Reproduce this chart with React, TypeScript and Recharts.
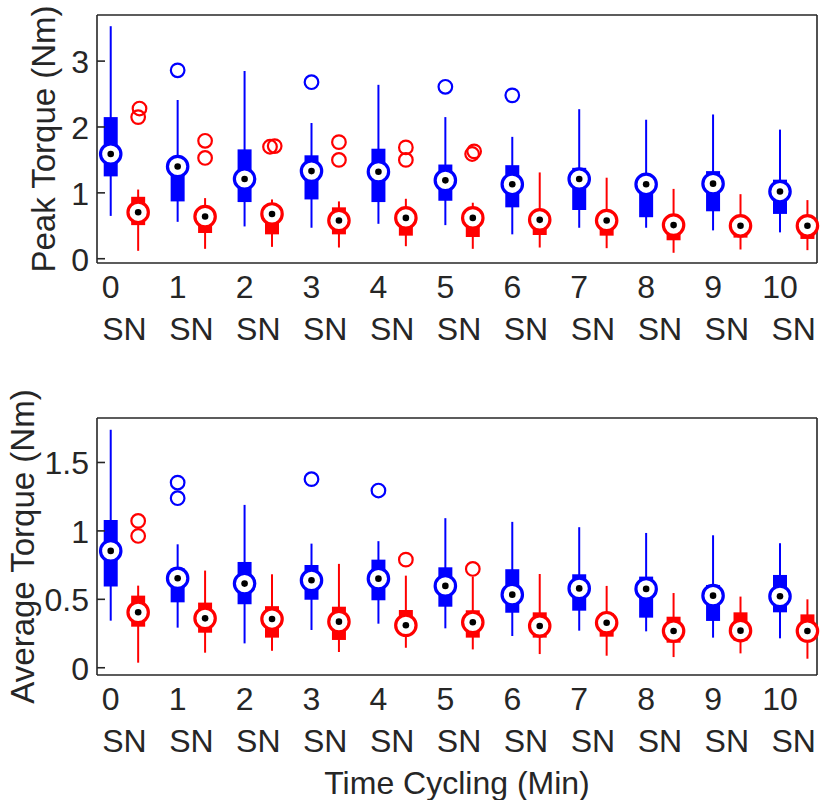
import React from 'react';
import { ScatterChart, Scatter, XAxis, YAxis, ErrorBar } from 'recharts';

// ---------- data ----------
const times = [0, 1, 2, 3, 4, 5, 6, 7, 8, 9, 10];
const groupLabel = 'SN';
const nOffset = 0.41; // N box sits right of S box

// [whiskerLow, q1, median, q3, whiskerHigh]
const peakS = [
  [0.65, 1.25, 1.59, 2.15, 3.53],
  [0.56, 0.87, 1.40, 1.45, 2.41],
  [0.49, 0.86, 1.21, 1.66, 2.85],
  [0.47, 0.90, 1.33, 1.57, 2.06],
  [0.53, 0.86, 1.32, 1.67, 2.64],
  [0.51, 0.88, 1.19, 1.43, 2.15],
  [0.37, 0.78, 1.13, 1.42, 1.85],
  [0.47, 0.74, 1.21, 1.38, 2.27],
  [0.47, 0.63, 1.13, 1.18, 2.11],
  [0.43, 0.72, 1.14, 1.33, 2.19],
  [0.40, 0.68, 1.02, 1.20, 1.96],
];
const peakN = [
  [0.12, 0.51, 0.705, 0.94, 1.05],
  [0.15, 0.39, 0.64, 0.75, 0.92],
  [0.18, 0.37, 0.68, 0.80, 0.90],
  [0.17, 0.37, 0.58, 0.78, 0.87],
  [0.19, 0.35, 0.62, 0.75, 0.91],
  [0.15, 0.33, 0.62, 0.72, 0.85],
  [0.17, 0.36, 0.59, 0.70, 1.31],
  [0.16, 0.35, 0.58, 0.66, 1.23],
  [0.09, 0.28, 0.51, 0.60, 1.06],
  [0.14, 0.32, 0.50, 0.58, 0.98],
  [0.13, 0.30, 0.50, 0.60, 0.89],
];
// outliers: [timeIndex, value, jitter]
const peakSOut = [[1, 2.86, 0], [3, 2.68, 0], [5, 2.61, 0], [6, 2.48, 0]];
const peakNOut = [
  [0, 2.28, 0.02], [0, 2.15, 0],
  [1, 1.79, 0], [1, 1.53, 0],
  [2, 1.70, -0.03], [2, 1.71, 0.04],
  [3, 1.77, 0], [3, 1.50, 0],
  [4, 1.69, 0], [4, 1.50, 0],
  [5, 1.63, 0.02], [5, 1.59, -0.01],
];

const avgS = [
  [0.344, 0.593, 0.854, 1.08, 1.739],
  [0.293, 0.478, 0.654, 0.727, 0.902],
  [0.178, 0.464, 0.615, 0.773, 1.19],
  [0.276, 0.497, 0.639, 0.751, 0.907],
  [0.322, 0.493, 0.651, 0.79, 0.925],
  [0.288, 0.446, 0.598, 0.734, 1.093],
  [0.232, 0.402, 0.534, 0.72, 1.066],
  [0.271, 0.417, 0.58, 0.683, 1.027],
  [0.266, 0.366, 0.576, 0.666, 0.985],
  [0.22, 0.342, 0.527, 0.605, 0.968],
  [0.215, 0.405, 0.522, 0.678, 0.91],
];
const avgN = [
  [0.037, 0.30, 0.405, 0.527, 0.60],
  [0.11, 0.256, 0.361, 0.476, 0.71],
  [0.124, 0.22, 0.356, 0.45, 0.683],
  [0.115, 0.203, 0.337, 0.446, 0.759],
  [0.146, 0.25, 0.31, 0.422, 0.673],
  [0.134, 0.22, 0.332, 0.42, 0.666],
  [0.10, 0.22, 0.305, 0.405, 0.685],
  [0.088, 0.227, 0.329, 0.40, 0.598],
  [0.078, 0.183, 0.268, 0.373, 0.546],
  [0.105, 0.198, 0.271, 0.405, 0.52],
  [0.066, 0.203, 0.268, 0.39, 0.50],
];
const avgSOut = [[1, 1.353, 0], [1, 1.239, 0], [3, 1.378, 0], [4, 1.295, 0]];
const avgNOut = [[0, 1.073, 0], [0, 0.963, 0], [4, 0.79, 0], [5, 0.722, 0]];

const peakTicks = [0, 1, 2, 3];
const avgTicks = [0, 0.5, 1, 1.5];
const peakDomain = [-0.065, 3.7];
const avgDomain = [-0.053, 1.825];
const xDomain = [-0.205, 10.553];

// tick positions: time numbers under S boxes, "SN" centred under each pair
const xTicks = times.flatMap((t) => [t, t + nOffset / 2]);

// ---------- styling ----------
const BLUE = '#0000ff';
const RED = '#ff0000';
const AX = '#262626';
const FONT = '"Liberation Sans", Arial, Helvetica, sans-serif';

const boxRows = (stats: number[][], off: number) =>
  stats.map((s, i) => ({
    x: times[i] + off,
    y: s[2],
    whisker: [s[2] - s[0], s[4] - s[2]],
    box: [s[2] - s[1], s[3] - s[2]],
  }));

const outRows = (out: number[][], off: number) =>
  out.map(([t, v, j]) => ({ x: times[t] + off + j, y: v }));

const medianShape = (color: string) => (props: any) => {
  const { cx, cy } = props;
  if (cx == null || cy == null) return null;
  return (
    <g>
      <circle cx={cx} cy={cy} r={10.2} fill="#ffffff" stroke={color} strokeWidth={3.2} />
      <circle cx={cx} cy={cy} r={3.3} fill="#000000" />
    </g>
  );
};

const outlierShape = (color: string) => (props: any) => {
  const { cx, cy } = props;
  if (cx == null || cy == null) return null;
  return <circle cx={cx} cy={cy} r={6.8} fill="none" stroke={color} strokeWidth={2.2} />;
};

const XTick = (props: any) => {
  const { x, y, payload } = props;
  const v = payload.value;
  const isNum = Math.abs(v - Math.round(v)) < 1e-6;
  return (
    <text
      x={x}
      y={y + (isNum ? 35 : 77)}
      textAnchor="middle"
      fontSize={32}
      fill={AX}
      fontFamily={FONT}
    >
      {isNum ? String(Math.round(v)) : groupLabel}
    </text>
  );
};

const YTick = (props: any) => {
  const { x, y, payload } = props;
  return (
    <text x={x} y={y + 12} textAnchor="end" fontSize={32} fill={AX} fontFamily={FONT}>
      {payload.value}
    </text>
  );
};

const yTitle = (text: string, baseX: number) => (props: any) => {
  const vb = props.viewBox || {};
  const x = baseX;
  const y = vb.y + vb.height / 2;
  return (
    <text
      x={x}
      y={y}
      transform={`rotate(-90 ${x} ${y})`}
      textAnchor="middle"
      fontSize={33}
      fill={AX}
      fontFamily={FONT}
    >
      {text}
    </text>
  );
};

const xTitle = (text: string) => (props: any) => {
  const vb = props.viewBox || {};
  return (
    <text
      x={vb.x + vb.width / 2}
      y={vb.y + 119}
      textAnchor="middle"
      fontSize={32}
      fill={AX}
      fontFamily={FONT}
    >
      {text}
    </text>
  );
};

type PanelProps = {
  top: number;
  marginTop: number;
  plotHeight: number;
  yDomain: number[];
  yTicks: number[];
  title: string;
  titleX: number;
  sStats: number[][];
  nStats: number[][];
  sOut: number[][];
  nOut: number[][];
  withXTitle: boolean;
};

function Panel(p: PanelProps) {
  const xHeight = p.withXTitle ? 125 : 90;
  const height = p.marginTop + 1 + p.plotHeight + xHeight;
  const axisLine = { stroke: AX, strokeWidth: 1.6 };
  return (
    <div style={{ position: 'absolute', left: 0, top: p.top, width: 820, height }}>
      <ScatterChart
        width={820}
        height={height}
        margin={{ top: p.marginTop, right: 2, bottom: 0, left: 0 }}
      >
        <XAxis
          xAxisId="main"
          dataKey="x"
          type="number"
          domain={xDomain}
          ticks={xTicks}
          interval={0}
          tick={<XTick />}
          tickLine={false}
          tickSize={0}
          tickMargin={0}
          axisLine={axisLine}
          height={xHeight}
          label={p.withXTitle ? { content: xTitle('Time Cycling (Min)') } : undefined}
        />
        <XAxis
          xAxisId="top"
          orientation="top"
          type="number"
          domain={xDomain}
          tick={false}
          tickLine={false}
          axisLine={axisLine}
          height={1}
        />
        <YAxis
          yAxisId="left"
          dataKey="y"
          type="number"
          domain={p.yDomain}
          ticks={p.yTicks}
          interval={0}
          tick={<YTick />}
          tickLine={{ stroke: AX, strokeWidth: 1.6 }}
          tickSize={-8}
          tickMargin={16}
          axisLine={axisLine}
          width={97}
          label={{ content: yTitle(p.title, p.titleX) }}
        />
        <YAxis
          yAxisId="right"
          orientation="right"
          type="number"
          domain={p.yDomain}
          ticks={p.yTicks}
          interval={0}
          tick={false}
          tickLine={{ stroke: AX, strokeWidth: 1.6 }}
          tickSize={-8}
          axisLine={axisLine}
          width={1}
        />
        <Scatter
          xAxisId="main"
          yAxisId="left"
          data={boxRows(p.sStats, 0)}
          shape={medianShape(BLUE)}
          isAnimationActive={false}
        >
          <ErrorBar dataKey="whisker" direction="y" width={0} stroke={BLUE} strokeWidth={2} />
          <ErrorBar dataKey="box" direction="y" width={0} stroke={BLUE} strokeWidth={14} />
        </Scatter>
        <Scatter
          xAxisId="main"
          yAxisId="left"
          data={boxRows(p.nStats, nOffset)}
          shape={medianShape(RED)}
          isAnimationActive={false}
        >
          <ErrorBar dataKey="whisker" direction="y" width={0} stroke={RED} strokeWidth={2} />
          <ErrorBar dataKey="box" direction="y" width={0} stroke={RED} strokeWidth={14} />
        </Scatter>
        <Scatter
          xAxisId="main"
          yAxisId="left"
          data={outRows(p.sOut, 0)}
          shape={outlierShape(BLUE)}
          isAnimationActive={false}
        />
        <Scatter
          xAxisId="main"
          yAxisId="left"
          data={outRows(p.nOut, nOffset)}
          shape={outlierShape(RED)}
          isAnimationActive={false}
        />
      </ScatterChart>
    </div>
  );
}

export default function App() {
  return (
    <div
      style={{
        position: 'absolute',
        left: 0,
        top: 0,
        width: 820,
        height: 803,
        overflow: 'hidden',
        background: '#ffffff',
        fontFamily: FONT,
      }}
    >
      <Panel
        top={0}
        marginTop={14}
        plotHeight={248}
        yDomain={peakDomain}
        yTicks={peakTicks}
        title="Peak Torque (Nm)"
        titleX={55}
        sStats={peakS}
        nStats={peakN}
        sOut={peakSOut}
        nOut={peakNOut}
        withXTitle={false}
      />
      <Panel
        top={370}
        marginTop={47}
        plotHeight={257}
        yDomain={avgDomain}
        yTicks={avgTicks}
        title="Average Torque (Nm)"
        titleX={34}
        sStats={avgS}
        nStats={avgN}
        sOut={avgSOut}
        nOut={avgNOut}
        withXTitle={true}
      />
    </div>
  );
}
